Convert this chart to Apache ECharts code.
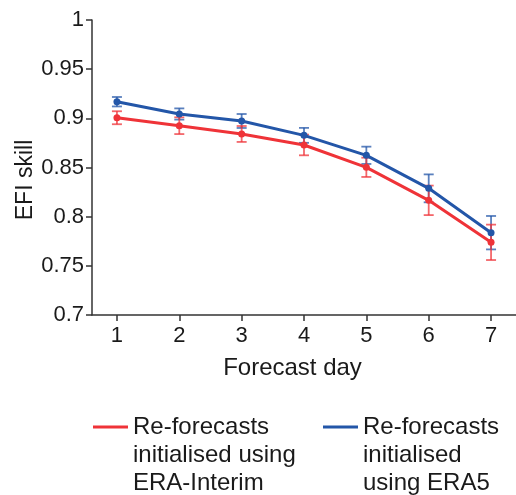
<!DOCTYPE html>
<html>
<head>
<meta charset="utf-8">
<script src="https://cdn.jsdelivr.net/npm/echarts@6/dist/echarts.min.js"></script>
<style>html,body{margin:0;padding:0;background:#fff}#c{width:516px;height:495px}</style>
</head>
<body>
<div id="c"></div>
<script>
var days = [1, 2, 3, 4, 5, 6, 7];
var eraInterimSkill = [0.9006, 0.8925, 0.8841, 0.8729, 0.8502, 0.8166, 0.7739];
var eraInterimErr   = [0.0066, 0.0085, 0.0081, 0.0105, 0.0098, 0.0150, 0.0180];
var era5Skill = [0.9169, 0.9044, 0.8973, 0.8827, 0.8624, 0.8288, 0.7837];
var era5Err   = [0.0048, 0.0057, 0.0071, 0.0076, 0.0088, 0.0142, 0.0170];
var yTicks = [0.7, 0.75, 0.8, 0.85, 0.9, 0.95, 1];
var nameA = 'Re-forecasts\ninitialised using\nERA-Interim';
var nameB = 'Re-forecasts\ninitialised\nusing ERA5';

var RED = '#ef3338';
var BLUE = '#2356a8';
var FONT = 'Liberation Sans, Arial, Helvetica, sans-serif';

function errData(vals, errs) {
  return days.map(function (d, i) { return [d, vals[i] - errs[i], vals[i] + errs[i]]; });
}
function errRender(color) {
  return function (params, api) {
    var x = api.value(0);
    var lo = api.coord([x, api.value(1)]);
    var hi = api.coord([x, api.value(2)]);
    var hw = 5;
    var st = { stroke: color, lineWidth: 1.8 };
    return {
      type: 'group',
      children: [
        { type: 'line', shape: { x1: lo[0], y1: lo[1], x2: hi[0], y2: hi[1] }, style: st },
        { type: 'line', shape: { x1: lo[0] - hw, y1: lo[1], x2: lo[0] + hw, y2: lo[1] }, style: st },
        { type: 'line', shape: { x1: hi[0] - hw, y1: hi[1], x2: hi[0] + hw, y2: hi[1] }, style: st }
      ]
    };
  };
}

var chart = echarts.init(document.getElementById('c'), null, { renderer: 'canvas' });
var legendText = { color: '#1a1a1a', fontSize: 24, fontFamily: FONT, lineHeight: 28 };
// tall icon box (35 x 84) with a thin bar centred on the first text line
var legendIcon = 'path://M0,0L0,0M0,12.5H35V15.5H0ZM0,84L35,84';
chart.setOption({
  animation: false,
  backgroundColor: '#ffffff',
  grid: { left: 92, top: 20, bottom: 180, width: 428.4, containLabel: false },
  legend: [
    { data: [nameA], left: 93, top: 413, padding: 0, icon: legendIcon, itemWidth: 35, itemHeight: 84,
      textStyle: legendText, selectedMode: false },
    { data: [nameB], left: 323, top: 413, padding: 0, icon: legendIcon, itemWidth: 35, itemHeight: 84,
      textStyle: legendText, selectedMode: false }
  ],
  xAxis: {
    type: 'value', min: 0.6, max: 7.4,
    name: 'Forecast day', nameLocation: 'middle', nameGap: 41,
    nameTextStyle: { color: '#1a1a1a', fontSize: 24, fontFamily: FONT, padding: [0, 23, 0, 0] },
    axisLine: { lineStyle: { color: '#333', width: 1.5 } },
    axisTick: { show: true, length: 6, lineStyle: { color: '#333', width: 1.5 }, customValues: days },
    axisLabel: { color: '#1a1a1a', fontSize: 22, fontFamily: FONT, margin: 10, customValues: days },
    splitLine: { show: false }
  },
  yAxis: [{
    type: 'value', min: 0.7, max: 1,
    axisLine: { show: true, lineStyle: { color: '#333', width: 1.5 } },
    axisTick: { show: true, length: 6, lineStyle: { color: '#333', width: 1.5 }, customValues: yTicks },
    axisLabel: { color: '#1a1a1a', fontSize: 22, fontFamily: FONT, margin: 8, customValues: yTicks,
      formatter: function (v) { return String(+v.toFixed(2)); } },
    splitLine: { show: false }
  }, {
    type: 'value', min: 0.7, max: 1, position: 'left',
    name: 'EFI skill', nameLocation: 'middle', nameGap: 55,
    nameTextStyle: { color: '#1a1a1a', fontSize: 23, fontFamily: FONT, padding: [0, 25, 0, 0] },
    axisLine: { show: false }, axisTick: { show: false }, axisLabel: { show: false },
    splitLine: { show: false }
  }],
  series: [
    { type: 'custom', name: 'errB', renderItem: errRender('rgba(35,86,168,0.75)'), data: errData(era5Skill, era5Err), z: 1, silent: true },
    { type: 'custom', name: 'errA', renderItem: errRender('rgba(239,51,56,0.75)'), data: errData(eraInterimSkill, eraInterimErr), z: 1, silent: true },
    { type: 'line', name: nameA, data: days.map(function (d, i) { return [d, eraInterimSkill[i]]; }),
      color: RED, lineStyle: { color: RED, width: 3 }, itemStyle: { color: RED },
      symbol: 'circle', symbolSize: 7, z: 3 },
    { type: 'line', name: nameB, data: days.map(function (d, i) { return [d, era5Skill[i]]; }),
      color: BLUE, lineStyle: { color: BLUE, width: 3 }, itemStyle: { color: BLUE },
      symbol: 'circle', symbolSize: 7, z: 3 }
  ]
});
</script>
</body>
</html>
